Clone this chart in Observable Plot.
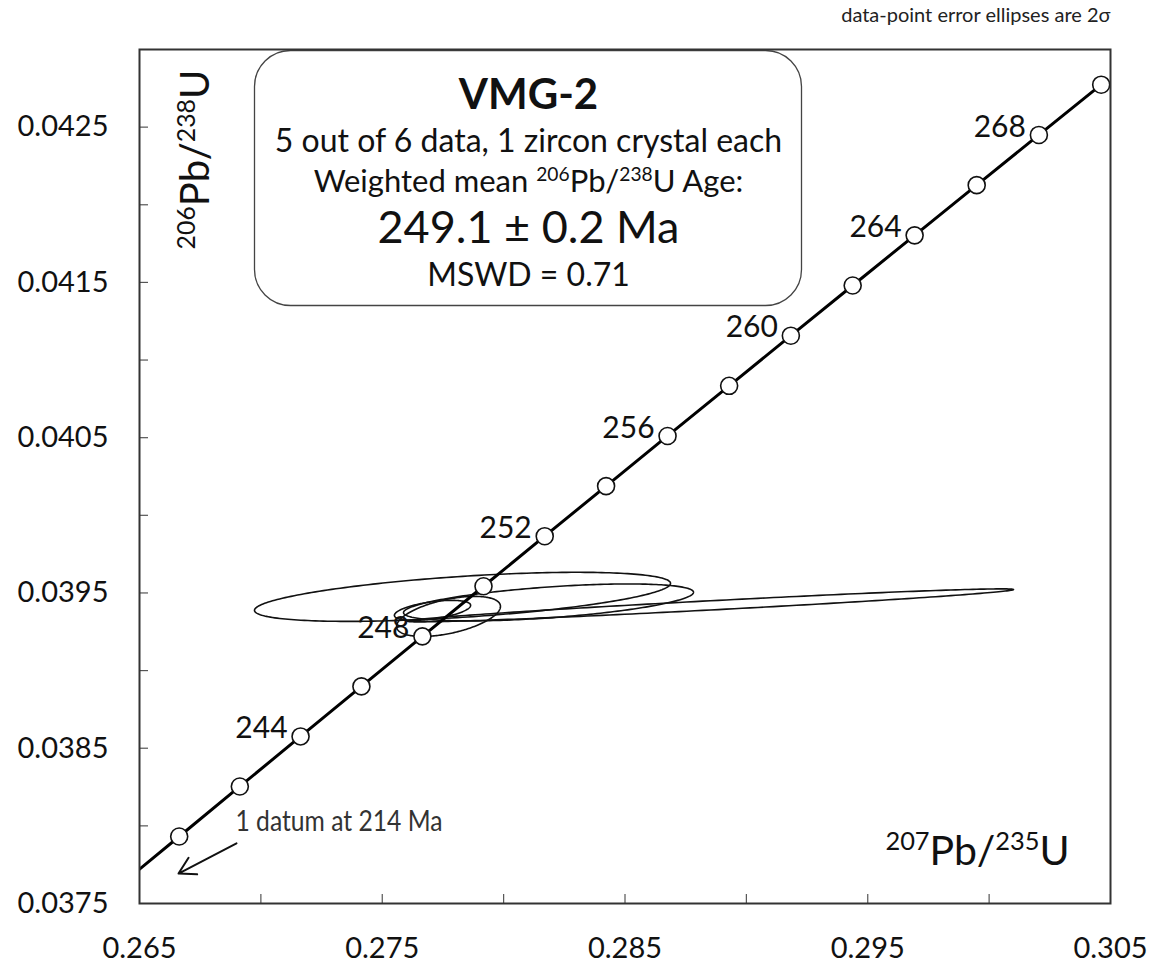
<!DOCTYPE html>
<html><head><meta charset="utf-8">
<script src="https://cdn.jsdelivr.net/npm/d3@7"></script>
<script src="https://cdn.jsdelivr.net/npm/@observablehq/plot@0.6"></script>
<style>body{margin:0;background:#fff} svg{display:block}</style>
</head><body><div id="chart"></div>
<script>
// Concordia points (age in Ma, ratios)
const ages = [238,240,242,244,246,248,250,252,254,256,258,260,262,264,266,268,270];
const r207_235 = [0.264143,0.266635,0.269133,0.271635,0.274142,0.276654,0.279171,0.281693,0.284221,0.286753,0.289290,0.291832,0.294379,0.296931,0.299488,0.302050,0.304617];
const r206_238 = [0.0376098,0.0379317,0.0382538,0.0385760,0.0388982,0.0392206,0.0395431,0.0398656,0.0401883,0.0405111,0.0408340,0.0411569,0.0414800,0.0418032,0.0421264,0.0424498,0.0427733];
const labeledAges = [244,248,252,256,260,264,268];

// Error ellipses (2 sigma)
const ellCx  = [0.278306, 0.281849, 0.288522, 0.27773, 0.27707];
const ellCy  = [0.039475, 0.039439, 0.039420, 0.039349, 0.039388];
const ellSx  = [0.008569, 0.005973, 0.012482, 0.00214, 0.00157];
const ellSy  = [0.000158, 0.000119, 0.0001063, 0.000129, 0.0000644];
const ellRho = [0.55, 0.55, 0.96, 0.50, 0.50];

// Axis ticks
const yTickLabels = [0.0375,0.0385,0.0395,0.0405,0.0415,0.0425];
const yMinorTicks = [0.0380,0.0385,0.0390,0.0395,0.0400,0.0405,0.0410,0.0415,0.0420,0.0425];
const xTickLabels = [0.265,0.275,0.285,0.295,0.305];
const xMinorTicks = [0.270,0.275,0.280,0.285,0.290,0.295,0.300];

// Texts
const boxTitle = "VMG-2";
const boxLine2 = "5 out of 6 data, 1 zircon crystal each";
const boxLine3 = "Weighted mean {206}Pb/{238}U Age:";
const boxLine4 = "249.1 ± 0.2 Ma";
const boxLine5 = "MSWD = 0.71";
const yLabel = "{206}Pb/{238}U";
const xLabel = "{207}Pb/{235}U";
const noteText = "1 datum at 214 Ma";
const caption = "data-point error ellipses are 2σ";

const concordia = ages.map((a,i)=>({age:a, x:r207_235[i], y:r206_238[i]}));
const markers = concordia.filter(d=>d.age>=240);
const labeled = concordia.filter(d=>labeledAges.includes(d.age));

const ellPts = [];
ellCx.forEach((cx,k)=>{
  const n=240;
  for(let i=0;i<=n;i++){
    const t=2*Math.PI*i/n;
    ellPts.push({id:k,
      x: cx + ellSx[k]*Math.cos(t),
      y: ellCy[k] + ellSy[k]*(ellRho[k]*Math.cos(t) + Math.sqrt(1-ellRho[k]**2)*Math.sin(t))});
  }
});

const L = 139, T = 49;
const txt = (s, px, py, o={}) => Plot.text([s], {text: d=>d, frameAnchor:"top-left", dx: px-L, dy: py-T, fill:"#111", textAnchor:"middle", lineAnchor:"middle", ...o});

const chart = Plot.plot({
  width: 1164, height: 970,
  marginLeft: 139, marginRight: 54, marginTop: 49, marginBottom: 67,
  x: {domain:[0.265,0.305]},
  y: {domain:[0.0375,0.0430]},
  style: {fontFamily: "Lato, 'Open Sans', sans-serif", color: "#111", background: "#fff"},
  marks: [
    Plot.frame({stroke:"#444", rx: 36, insetLeft: 115, insetRight: 309, insetTop: 1, insetBottom: 598, strokeWidth: 1.3}),
    Plot.line(ellPts, {x:"x", y:"y", z:"id", stroke:"#111", strokeWidth:1.6}),
    Plot.line(concordia, {x:"x", y:"y", stroke:"#000", strokeWidth:3, clip:true}),
    Plot.dot(markers, {x:"x", y:"y", r:8.5, fill:"#fff", stroke:"#111", strokeWidth:1.6}),
    Plot.text(labeled, {x:"x", y:"y", text: d=>String(d.age), textAnchor:"end", dx:-13, dy:-8, fontSize:30, fill:"#111"}),
    Plot.tickY(yMinorTicks, {y: d=>d, insetRight: 971-9, stroke:"#555", strokeWidth:1.2}),
    Plot.tickX(xMinorTicks, {x: d=>d, insetTop: 854-9, stroke:"#555", strokeWidth:1.2}),
    Plot.axisY({ticks: yTickLabels, tickSize: 0, tickPadding: 31, tickFormat: d=>d.toFixed(4), fontSize: 29, label: null}),
    Plot.axisX({ticks: xTickLabels, tickSize: 0, tickPadding: 34, tickFormat: d=>d.toFixed(3), fontSize: 29, label: null}),
    Plot.frame({stroke:"#333", strokeWidth:2}),
    txt(boxTitle, 528, 95, {fontSize: 42, fontWeight: "bold"}),
    txt(boxLine2, 528, 141, {fontSize: 32}),
    txt(boxLine3, 528, 182, {fontSize: 31}),
    txt(boxLine4, 528, 228, {fontSize: 45}),
    txt(boxLine5, 528, 275, {fontSize: 32}),
    txt(yLabel, 196, 159, {fontSize: 40, rotate: -90}),
    txt(xLabel, 977, 851, {fontSize: 41}),
    txt(noteText, 235, 822, {fontSize: 28, textAnchor: "start", fill:"#333"}),
    txt(caption, 1110, 15, {fontSize: 20, textAnchor: "end", fill:"#222"}),
    Plot.arrow([0], {x1: 0.268996, y1: 0.037887, x2: 0.266607, y2: 0.037693, stroke:"#111", strokeWidth:2, headLength: 14})
  ]
});

// post-processing: condensed note, superscripts {..} -> raised smaller tspan
d3.select(chart).selectAll("text").each(function(){
  const t = this.textContent;
  if (t === noteText) { this.setAttribute("textLength", 207); this.setAttribute("lengthAdjust", "spacingAndGlyphs"); }
  if (!t.includes("{")) return;
  const host = this.closest("[font-size]");
  const fs = parseFloat(host ? host.getAttribute("font-size") : 16);
  const parts = t.split(/(\{[^}]*\})/).filter(s=>s);
  const sel = d3.select(this); sel.text(null);
  let prevSup = false;
  parts.forEach(p=>{
    const sup = p.startsWith("{");
    const ts = sel.append("tspan").text(sup ? p.slice(1,-1) : p);
    if (sup) { ts.attr("font-size", fs*0.62); if(!prevSup) ts.attr("dy", -fs*0.36); }
    else if (prevSup) ts.attr("dy", fs*0.36);
    prevSup = sup;
  });
});

document.getElementById("chart").appendChild(chart);
</script>
</body></html>
